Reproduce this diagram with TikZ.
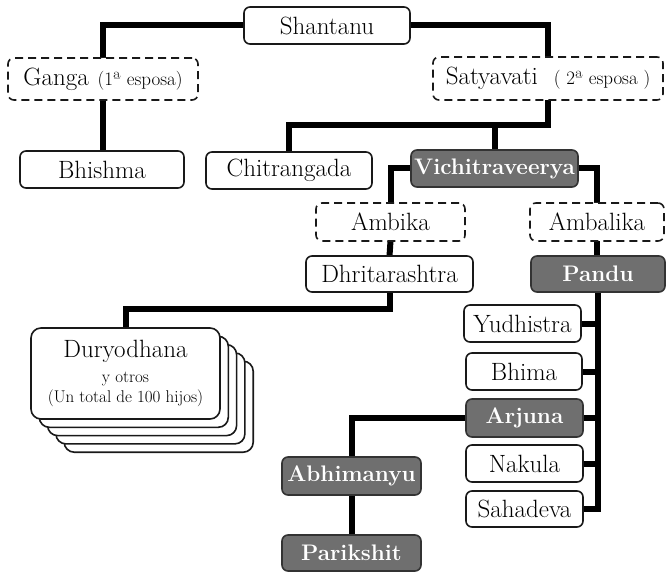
\documentclass[tikz,border=0pt]{standalone}
\usetikzlibrary{calc}
\pgfdeclarelayer{background}
\pgfsetlayers{background,main}
\definecolor{heirgray}{HTML}{6F6F6F}
\newcommand{\esposa}[1]{{\fontsize{19}{20}\selectfont #1}}
\newcommand{\hijos}[1]{{\fontsize{17}{19}\selectfont #1}}
\tikzset{
  person/.style={draw=black!90, line width=1.6pt, rounded corners=6pt, fill=white, inner sep=0pt, outer sep=0pt, minimum height=37pt, font=\fontsize{25}{28}\selectfont},
  spouse/.style={person, dash pattern=on 8pt off 5pt},
  heir/.style={person, draw=black!80, fill=heirgray, text=white, font=\bfseries\fontsize{22.5}{26}\selectfont},
  link/.style={line width=6pt},
  card/.style={draw=black!90, line width=1.6pt, rounded corners=10pt, fill=white}
}

\begin{document}
\begin{tikzpicture}[x=1pt, y=-1pt]
\useasboundingbox (0,0) rectangle (667,572);
% Shantanu y sus esposas
\node[person, minimum width=166pt] (shantanu) at (327,25.5) {Shantanu};
\node[spouse, minimum width=190pt, minimum height=42pt] (ganga) at (103,79) {Ganga\hspace{9pt}\esposa{(1ª esposa)}};
\node[spouse, minimum width=230pt, minimum height=43pt] (satyavati) at (548,78.5) {Satyavati\hspace{16pt}\esposa{( 2ª esposa )}};
% hijos
\node[person, minimum width=164pt] (bhishma) at (102,169.5) {Bhishma};
\node[person, minimum width=166pt] (chitrangada) at (289,170.5) {Chitrangada};
\node[heir, minimum width=167pt] (vichitraveerya) at (494.5,168.5) {Vichitraveerya};
\node[spouse, minimum width=149pt, minimum height=38pt] (ambika) at (390.5,222) {Ambika};
\node[spouse, minimum width=134pt, minimum height=38pt] (ambalika) at (597,222) {Ambalika};
\node[person, minimum width=167pt, minimum height=36pt] (dhritarashtra) at (389.5,274) {Dhritarashtra};
\node[heir, minimum width=134pt, minimum height=36pt] (pandu) at (598,274) {Pandu};
% Kauravas
\node[person, rounded corners=10pt, minimum width=189pt, minimum height=91pt, align=center] (duryodhana) at (125.5,373.5) {Duryodhana\\[-3pt]\hijos{y otros}\\[-8pt]\hijos{(Un total de 100 hijos)}};
% Pandavas
\node[person, minimum width=117pt] (yudhistra) at (522.5,323.5) {Yudhistra};
\node[person, minimum width=116pt] (bhima) at (524,371.5) {Bhima};
\node[heir, minimum width=117pt, minimum height=38pt] (arjuna) at (524.5,418) {Arjuna};
\node[person, minimum width=117pt] (nakula) at (524.5,463.5) {Nakula};
\node[person, minimum width=117pt, minimum height=36pt] (sahadeva) at (524.5,509) {Sahadeva};
\node[heir, minimum width=139pt, minimum height=38pt] (abhimanyu) at (351.5,476) {Abhimanyu};
\node[heir, minimum width=139pt, minimum height=36pt] (parikshit) at (351.5,553) {Parikshit};

\begin{pgfonlayer}{background}
\foreach \k in {4,3,2,1}
  \draw[card] ($(duryodhana.north west)+(\k*8.3,\k*8.3)$) rectangle ++(189,91);
\draw[link] (shantanu.west) -| (ganga.north);
\draw[link] (shantanu.east) -| (satyavati.north);
\draw[link] (ganga.south) -- (ganga.south |- bhishma.north);
\draw[link] (satyavati.south) -- ++(0,25) coordinate (sbus) -| (chitrangada.north);
\draw[link] (sbus -| vichitraveerya.north) -- (vichitraveerya.north);
\draw[link] (vichitraveerya.west) -| (ambika.north);
\draw[link] (vichitraveerya.east) -| (ambalika.north);
\draw[link] (ambika.south) -- (dhritarashtra.north);
\draw[link] (ambalika.south) -- (ambalika.south |- pandu.north);
\draw[link] (dhritarashtra.south) -- ++(0,17) -| (duryodhana.north);
\draw[link] (pandu.south) |- (sahadeva.east);
\foreach \son in {yudhistra,bhima,arjuna,nakula}
  \draw[link] (\son.east) -- (\son.east -| pandu.south);
\draw[link] (arjuna.west) -| (abhimanyu.north);
\draw[link] (abhimanyu.south) -- (parikshit.north);
\end{pgfonlayer}
\end{tikzpicture}
\end{document}
